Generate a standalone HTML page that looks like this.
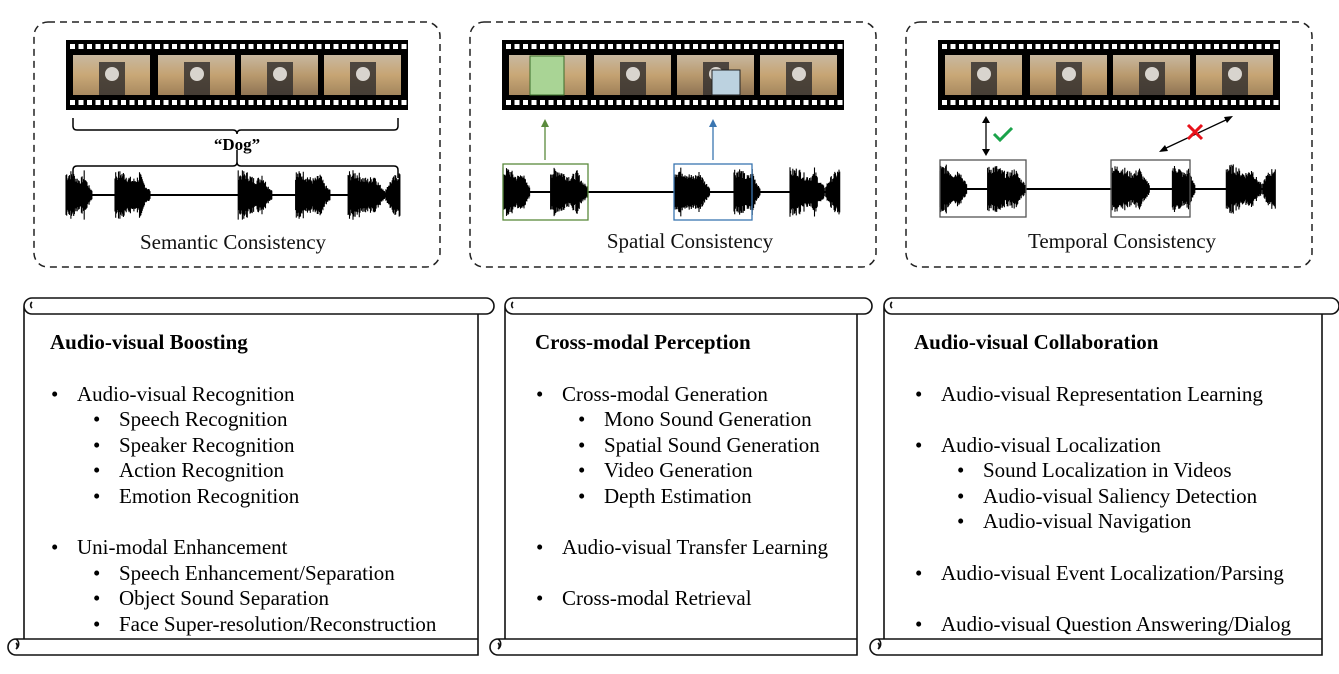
<!DOCTYPE html>
<html><head><meta charset="utf-8"><style>
body{margin:0;background:#fff;width:1339px;height:674px;overflow:hidden;font-family:"Liberation Serif",serif;}
svg{position:absolute;left:0;top:0}
</style></head><body>
<svg id="s" width="1339" height="674" viewBox="0 0 1339 674" font-family="Liberation Serif, serif">
<g fill="none" stroke="#222" stroke-width="1.5" stroke-dasharray="7,5">
<rect x="34" y="22" width="406" height="245" rx="14"/>
<rect x="470" y="22" width="406" height="245" rx="14"/>
<rect x="906" y="22" width="406" height="245" rx="14"/>
</g>
<g id="films"></g>
<g id="waves"></g>
<g fill="none" stroke="#000" stroke-width="1.5">
<path d="M73,118 v8 q0,4 4,4 h156 q4,0 4,4 q0,-4 4,-4 h153 q4,0 4,-4 v-8"/>
<path d="M73,178 v-8 q0,-4 4,-4 h156 q4,0 4,-4 q0,4 4,4 h153 q4,0 4,4 v8"/>
<line x1="237" y1="150" x2="237" y2="162"/>
</g>
<text x="237" y="150" font-size="17" font-weight="bold" text-anchor="middle">“Dog”</text>
<rect x="503" y="164" width="85" height="56" fill="none" stroke="#5a8a3c" stroke-width="1.3"/>
<rect x="674" y="164" width="78" height="56" fill="none" stroke="#3a75b0" stroke-width="1.3"/>
<line x1="545" y1="160" x2="545" y2="126" stroke="#5a8a3c" stroke-width="1.3"/>
<path d="M541,127 l4,-8 l4,8z" fill="#5a8a3c"/>
<line x1="713" y1="160" x2="713" y2="126" stroke="#3a75b0" stroke-width="1.3"/>
<path d="M709,127 l4,-8 l4,8z" fill="#3a75b0"/>
<rect x="940" y="160" width="86" height="57" fill="none" stroke="#555" stroke-width="1.3"/>
<rect x="1111" y="160" width="79" height="57" fill="none" stroke="#555" stroke-width="1.3"/>
<line x1="986" y1="121" x2="986" y2="150" stroke="#000" stroke-width="1.3"/>
<path d="M982,123 l4,-7 l4,7z M982,149 l4,7 l4,-7z" fill="#000"/>
<path d="M994,134 l6,6 l12,-12" fill="none" stroke="#1aa34a" stroke-width="3"/>
<line x1="1164" y1="149" x2="1228" y2="119" stroke="#000" stroke-width="1.3"/>
<path d="M1159,152 l9,-1 l-3,-6z M1233,116 l-9,1 l3,6z" fill="#000"/>
<path d="M1188,125 l14,14 M1202,125 l-14,14" stroke="#e8121b" stroke-width="3"/>
<g font-size="21" text-anchor="middle" fill="#111">
<text x="233" y="249">Semantic Consistency</text>
<text x="690" y="248">Spatial Consistency</text>
<text x="1122" y="248">Temporal Consistency</text>
</g>
<g id="scrolls" fill="none" stroke="#111" stroke-width="1.6"></g>
<g font-size="21" fill="#000" id="txt"></g>
</svg>
<script>
var NS="http://www.w3.org/2000/svg";
function el(p,t,a){var e=document.createElementNS(NS,t);for(var k in a)e.setAttribute(k,a[k]);p.appendChild(e);return e;}
var films=document.getElementById('films');
var seed=7;function rnd(){seed=(seed*9301+49297)%233280;return seed/233280;}
var fcols=[["#c9a877","#a98a60"],["#c4a272","#9f8058"],["#b99a6e","#8f7454"],["#c7a574","#a3865d"]];
function film(x0,hl){
 el(films,'rect',{x:x0,y:40,width:342,height:70,fill:'#000'});
 for(var x=x0+4;x<x0+340;x+=8.5){el(films,'rect',{x:x,y:44,width:5,height:5,fill:'#fff'});el(films,'rect',{x:x,y:100,width:5,height:5,fill:'#fff'});}
 var fx=[7,92,175,258];
 for(var i=0;i<4;i++){
  var g=el(films,'linearGradient',{id:'g'+x0+i,x1:0,y1:0,x2:0,y2:1});
  el(g,'stop',{offset:0,'stop-color':'#c8b8a0'});el(g,'stop',{offset:0.5,'stop-color':fcols[i][0]});el(g,'stop',{offset:1,'stop-color':fcols[i][1]});
  el(films,'rect',{x:x0+fx[i],y:55,width:77,height:40,fill:'url(#g'+x0+i+')'});
  el(films,'rect',{x:x0+fx[i]+26,y:62,width:26,height:33,fill:'#2e2c2c',opacity:0.8});
  el(films,'ellipse',{cx:x0+fx[i]+39,cy:74,rx:7,ry:7,fill:'#d8d4ce'});
 }
 if(hl){el(films,'rect',{x:x0+28,y:56,width:34,height:39,fill:'#a9d495',stroke:'#3c6e2a','stroke-width':1});
 el(films,'rect',{x:x0+210,y:70,width:28,height:25,fill:'#bcd2e0',stroke:'#222','stroke-width':1});}
}
film(66,false);film(502,true);film(938,false);
var waves=document.getElementById('waves');
function wave(x0,x1,cy,bursts,amp){
 var d="";
 for(var x=x0;x<=x1;x+=0.7){
  var a=1.0;
  for(var b of bursts){if(x>=b[0]&&x<=b[1]){var t=(x-b[0])/(b[1]-b[0]);var env=b[2]=='up'?Math.pow(t,0.5):(t<0.05?1:(t<0.7?0.85+0.15*Math.sin(t*9):Math.exp(-(t-0.7)*5)));a=Math.max(a,amp*env*(0.6+0.4*rnd()));}}
  d+="M"+x.toFixed(1)+","+(cy-a).toFixed(1)+"V"+(cy+a).toFixed(1);
 }
 el(waves,'path',{d:d,stroke:'#000','stroke-width':1.1,fill:'none'});
}
wave(66,400,195,[[66,92,0],[115,150,0],[238,272,0],[295,330,0],[348,385,0],[385,400,'up']],25);
wave(503,840,192,[[503,530,0],[550,588,0],[674,710,0],[734,760,0],[790,825,0],[825,840,'up']],25);
wave(940,1276,189,[[940,967,0],[987,1026,0],[1112,1150,0],[1172,1195,0],[1226,1262,0],[1262,1276,'up']],25);
var sc=document.getElementById('scrolls');
function scroll(lx,tr,bl,rx,top,bot){
 el(sc,'path',{d:"M"+(lx+8)+","+top+" H"+(tr-8)+" a8,8 0 0 1 0,16 H"+(lx+8)+" M"+(lx+8)+","+(top+16)+" a8,8 0 0 1 0,-16 a8,8 0 0 0 -8,8 V"+(bot-8)});
 el(sc,'path',{d:"M"+(bl+8)+","+(bot+8)+" H"+rx+" V"+(top+16)+" M"+(bl+8)+","+(bot+8)+" a8,8 0 0 1 0,-16 H"+rx+" M"+(bl+8)+","+(bot-8)+" a6,6 0 0 1 0,10 a4,4 0 0 0 0,-6"});
 el(sc,'path',{d:"M"+(lx+8)+","+(top+10)+" a4,4 0 0 1 0,-6"});
}
scroll(24,494,8,478,298,647);
scroll(505,872,490,857,298,647);
scroll(884,1339,870,1322,298,647);
var T=document.getElementById('txt');
function col(x,head,items){
 el(T,'text',{x:x,y:349,'font-weight':'bold'}).textContent=head;
 for(var it of items){
  var sub=it[2];var bx=sub?x+43:x+1,tx=sub?x+69:x+27;
  el(T,'text',{x:bx,y:it[1]}).textContent='•';
  el(T,'text',{x:tx,y:it[1]}).textContent=it[0];
 }
}
var Y=[401,426,452,477,503,554,580,605,631];
col(50,'Audio-visual Boosting',[['Audio-visual Recognition',Y[0]],['Speech Recognition',Y[1],1],['Speaker Recognition',Y[2],1],['Action Recognition',Y[3],1],['Emotion Recognition',Y[4],1],['Uni-modal Enhancement',Y[5]],['Speech Enhancement/Separation',Y[6],1],['Object Sound Separation',Y[7],1],['Face Super-resolution/Reconstruction',Y[8],1]]);
col(535,'Cross-modal Perception',[['Cross-modal Generation',Y[0]],['Mono Sound Generation',Y[1],1],['Spatial Sound Generation',Y[2],1],['Video Generation',Y[3],1],['Depth Estimation',Y[4],1],['Audio-visual Transfer Learning',Y[5]],['Cross-modal Retrieval',Y[7]]]);
col(914,'Audio-visual Collaboration',[['Audio-visual Representation Learning',Y[0]],['Audio-visual Localization',452],['Sound Localization in Videos',477,1],['Audio-visual Saliency Detection',503,1],['Audio-visual Navigation',528,1],['Audio-visual Event Localization/Parsing',580],['Audio-visual Question Answering/Dialog',631]]);
</script>
</body></html>
